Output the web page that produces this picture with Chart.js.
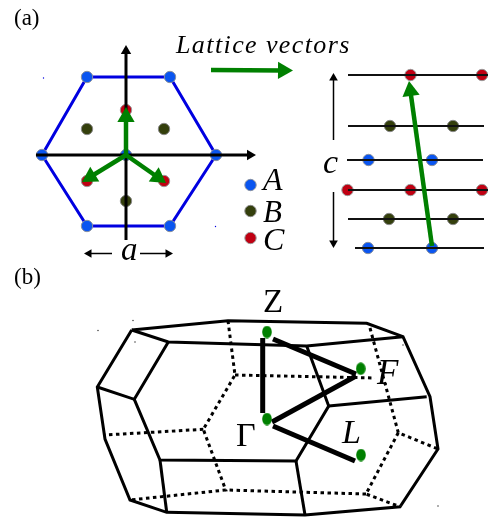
<!DOCTYPE html>
<html>
<head>
<meta charset="utf-8">
<style>
  html, body { margin: 0; padding: 0; background: #fff; }
  canvas { display: block; }
</style>
<script src="https://cdn.jsdelivr.net/npm/chart.js@4"></script>
</head>
<body>
<canvas id="lattice" width="488" height="517"></canvas>
<script>
// all points are [x, y]
const hexagon = [[87,77],[170,77],[216,155],[170,226],[87,226],[42,155],[87,77]];
const siteA = [[87,77],[170,77],[216,155],[170,226],[87,226],[42,155],[126,155],[368.5,160],[432,160],[368,248],[432,248],[250.5,185]];
const siteB = [[87,129],[164,129],[126,201],[390,126],[453,126],[389,219],[453,219],[250.5,211]];
const siteC = [[126,110],[87,181],[164,181],[410.5,75],[482,75],[347.5,190],[410.5,190],[482,190],[250.5,238]];

const layers = [
  [[348,75],[488,75]], [[348,126],[484,126]], [[347,160],[483,160]],
  [[348,190],[488,190]], [[348,219],[484,219]], [[355,248],[484,248]]
];

// [from, tip]
const axisArrows = [[[126,240],[126,45]], [[36,155],[256,155]]];
const greenArrows = [
  [[126,155],[126,107]], [[126,155],[82,182]], [[126,155],[166,183]],
  [[211,70],[293,70.5]], [[432,246],[409,81]]
];
const thinArrows = [
  [[112,253.5],[84,253.5]], [[140,253.5],[173,253.5]],
  [[333.5,140],[333.5,73]], [[333.5,192],[333.5,248]]
];

const zoneSolid = [
  [[131.7,330],[228,320.7],[366.7,323.3],[403,336.7],[430,396.7],[438,449],[400,506.7],[305,515],[166.7,512.3],[130,500],[105,439],[97.3,387],[131.7,330]],
  [[131.7,330],[168.3,342],[306.7,346],[403,336.7]],
  [[168.3,342],[134.3,399.3],[97.3,387]],
  [[134.3,399.3],[160,460],[296,461],[328.7,406],[306.7,346]],
  [[160,460],[166.7,512.3]],
  [[296,461],[305,515]],
  [[328.7,406],[426.7,396.7]]
];
const zoneDotted = [
  [[228,320.7],[235,375],[203.3,429.3],[225.7,490],[130,500]],
  [[235,375],[375,378]],
  [[370,328],[398.3,432.7],[438,449]],
  [[398.3,432.7],[366,494],[400,506.7]],
  [[366,494],[225.7,490]],
  [[203.3,429.3],[105,435]]
];
const paths = [
  [[262.7,338],[262.7,413]],
  [[273,339],[356,374]],
  [[272,422],[356,376]],
  [[273,426],[355,461]]
];
const zonePoints = [[267,332],[267,419],[360.7,368.7],[361,455]];
const specks = [[98,330.5],[133,320.5],[135,342],[403,345],[401,506],[438,506]];
const blueSpecks = [[43.5,78],[215.5,226.5]];

const labelTexts = ['(a)', '(b)', 'Lattice vectors', 'a', 'c', 'A', 'B', 'C', 'Z', 'Γ', 'F', 'L'];
const labelAt = [[14,25],[14,284],[176,53],[121,260],[323,173],[263,190],[263,222],[263,250],[263,312],[236,446],[377,384],[342,443]];
const labelFont = [
  '23px "Liberation Serif"', '23px "Liberation Serif"', 'italic 26px "Liberation Serif"',
  'italic 33px "Liberation Serif"', 'italic 34px "Liberation Serif"',
  'italic 32px "Liberation Serif"', 'italic 31px "Liberation Serif"', 'italic 32px "Liberation Serif"',
  '33px "Liberation Serif"', '34px "Liberation Serif"', 'italic 35px "Liberation Serif"', 'italic 34px "Liberation Serif"'
];

const toXY = pts => pts.map(p => ({ x: p[0], y: p[1] }));

function line(pts, color, width, dash, order) {
  return { type: 'line', data: toXY(pts), borderColor: color, borderWidth: width, borderDash: dash || [],
           pointRadius: 0, fill: false, tension: 0, order: order === undefined ? 5 : order };
}

function dots(pts, color, r, border) {
  return { type: 'scatter', data: toXY(pts), backgroundColor: color, borderColor: border, borderWidth: border ? 1 : 0,
           pointRadius: r, order: 1 };
}

// shaft plus a triangle marker, the tip sits on the arrow's end
function arrow(a, color, width, head, order) {
  const from = a[0], tip = a[1];
  const dx = tip[0] - from[0], dy = tip[1] - from[1], len = Math.hypot(dx, dy);
  const c = [tip[0] - dx / len * head, tip[1] - dy / len * head];
  return [
    line([from, c], color, width, [], order),
    { type: 'scatter', data: toXY([c]), pointStyle: 'triangle', pointRadius: head, backgroundColor: color, borderWidth: 0,
      pointRotation: Math.atan2(dx, -dy) * 180 / Math.PI, order: order }
  ];
}

// the zone points are a bit taller than wide
function ovalMarker() {
  const c = document.createElement('canvas');
  c.width = 10;
  c.height = 13;
  const g = c.getContext('2d');
  g.fillStyle = '#008000';
  g.beginPath();
  g.ellipse(5, 6.5, 4.8, 6.2, 0, 0, Math.PI * 2);
  g.fill();
  return c;
}

const datasets = [
  line(hexagon, '#0000e0', 3),
  ...layers.map(l => line(l, '#111', 2, [], 0)),
  dots(siteA, '#0a55f0', 5.7, '#8890a0'),
  dots(siteB, '#343f0c', 5.7, '#888'),
  dots(siteC, '#c00012', 5.7, '#999'),
  ...axisArrows.flatMap(a => arrow(a, '#000', 3, 6, 0)),
  ...thinArrows.flatMap(a => arrow(a, '#000', 1.5, 5, 0)),
  ...greenArrows.flatMap(a => arrow(a, '#008000', 4.5, 10, -1)),
  ...zoneSolid.map(l => line(l, '#000', 3)),
  ...zoneDotted.map(l => line(l, '#000', 3, [3.5, 3.5])),
  ...paths.map(l => line(l, '#000', 5)),
  { type: 'scatter', data: toXY(zonePoints), pointStyle: ovalMarker(), order: 1 },
  dots(specks, '#222', 0.7),
  dots(blueSpecks, '#0000e0', 0.7)
];

const textLabels = {
  id: 'textLabels',
  afterDatasetsDraw(chart) {
    const { ctx, scales } = chart;
    ctx.save();
    ctx.fillStyle = '#000';
    labelTexts.forEach((t, i) => {
      ctx.font = labelFont[i];
      ctx.letterSpacing = t === 'Lattice vectors' ? '1.4px' : '0px';
      ctx.fillText(t, scales.x.getPixelForValue(labelAt[i][0]), scales.y.getPixelForValue(labelAt[i][1]));
    });
    ctx.restore();
  }
};

new Chart(document.getElementById('lattice').getContext('2d'), {
  data: { datasets: datasets },
  plugins: [textLabels],
  options: {
    responsive: false,
    animation: false,
    layout: { padding: 0, autoPadding: false },
    plugins: { legend: { display: false }, tooltip: { enabled: false } },
    scales: {
      x: { type: 'linear', min: 0, max: 488, display: false },
      y: { type: 'linear', min: 0, max: 517, reverse: true, display: false }
    }
  }
});
</script>
</body>
</html>
